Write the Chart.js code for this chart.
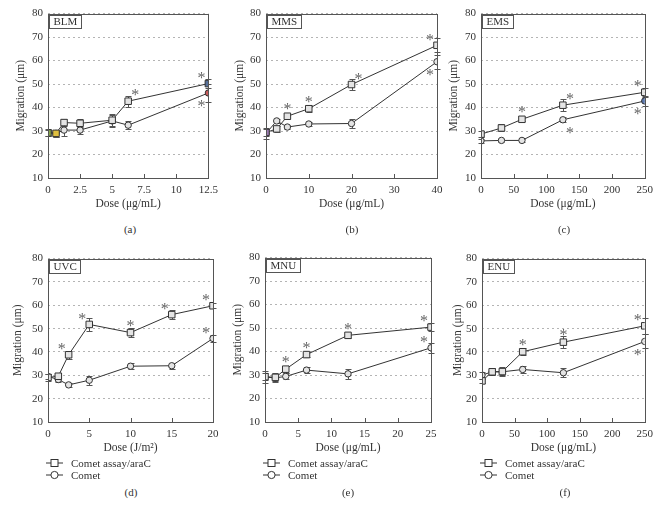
<!DOCTYPE html>
<html>
<head>
<meta charset="utf-8">
<script src="https://cdn.jsdelivr.net/npm/chart.js@4"></script>
<style>
  body { margin: 0; background: #fff; width: 666px; height: 516px; position: relative; overflow: hidden; font-family: "Liberation Serif", serif; color: #333; }
  canvas { position: absolute; }
  .cap { position: absolute; font-size: 11px; width: 60px; text-align: center; color: #333; }
  .leg { position: absolute; font-size: 11px; line-height: 12px; }
  .leg div { height: 12px; display: flex; align-items: center; }
  .leg svg { margin-right: 8px; }
</style>
</head>
<body>
<script>
// ---- data ----
const blmDose = [0, 0.625, 1.25, 2.5, 5, 6.25, 12.5];
const blmAraC = [29.2, 29.0, 33.6, 33.3, 34.6, 42.7, 50.2];
const blmAraCErr = [1.2, 1.5, 1.5, 2.0, 2.5, 2.3, 2.0];
const blmComet = [29.5, 29.0, 30.4, 30.4, 34.3, 32.5, 46.2];
const blmCometErr = [1.5, 1.5, 2.5, 1.5, 2.5, 1.8, 4.0];

const mmsDose = [0, 2.5, 5, 10, 20, 40];
const mmsAraC = [29.4, 30.9, 36.3, 39.5, 49.8, 66.5];
const mmsAraCErr = [1.5, 1.2, 1.0, 1.5, 2.5, 3.0];
const mmsComet = [29.0, 34.3, 31.7, 33.0, 33.2, 59.5];
const mmsCometErr = [2.5, 1.0, 1.0, 1.0, 1.8, 3.0];

const emsDose = [0, 31.25, 62.5, 125, 250];
const emsAraC = [28.7, 31.3, 35.0, 41.0, 46.5];
const emsAraCErr = [1.2, 1.5, 0.8, 2.5, 2.0];
const emsComet = [25.8, 26.0, 26.0, 34.8, 42.8];
const emsCometErr = [0.8, 0.8, 0.8, 1.0, 2.0];

const uvcDose = [0, 1.25, 2.5, 5, 10, 15, 20];
const uvcAraC = [29.1, 29.6, 38.8, 51.8, 48.3, 56.0, 59.8];
const uvcAraCErr = [1.5, 1.5, 1.8, 2.8, 1.8, 2.0, 1.0];
const uvcComet = [29.5, 28.2, 25.9, 27.9, 33.9, 34.1, 45.8];
const uvcCometErr = [1.0, 1.2, 1.0, 2.0, 1.2, 1.2, 1.5];

const mnuDose = [0, 1.5625, 3.125, 6.25, 12.5, 25];
const mnuAraC = [29.3, 29.0, 32.5, 38.7, 46.9, 50.4];
const mnuAraCErr = [1.5, 2.0, 1.5, 1.0, 1.2, 1.8];
const mnuComet = [29.1, 28.8, 29.4, 32.1, 30.5, 41.6];
const mnuCometErr = [2.5, 1.5, 1.3, 1.3, 2.0, 2.2];

const enuDose = [0, 15.625, 31.25, 62.5, 125, 250];
const enuAraC = [27.6, 31.5, 31.6, 40.1, 44.2, 51.2];
const enuAraCErr = [1.0, 1.5, 1.5, 1.5, 2.5, 3.5];
const enuComet = [30.1, 31.5, 31.5, 32.5, 31.1, 44.5];
const enuCometErr = [1.5, 1.5, 2.0, 1.5, 2.0, 3.0];

const yTicks = [10, 20, 30, 40, 50, 60, 70, 80];
const seriesNames = ["Comet assay/araC", "Comet"];

// significance marks: [series, point, side]
const blmStars = [[0, 5, "ar"], [0, 6, "al"], [1, 6, "bl"]];
const mmsStars = [[0, 2, "a"], [0, 3, "a"], [0, 4, "ar"], [0, 5, "al"], [1, 5, "bl"]];
const emsStars = [[0, 2, "a"], [0, 3, "ar"], [0, 4, "al"], [1, 3, "br"], [1, 4, "bl"]];
const uvcStars = [[0, 2, "al"], [0, 3, "al"], [0, 4, "a"], [0, 5, "al"], [0, 6, "al"], [1, 6, "al"]];
const mnuStars = [[0, 2, "a"], [0, 3, "a"], [0, 4, "a"], [0, 5, "al"], [1, 5, "al"]];
const enuStars = [[0, 3, "a"], [0, 4, "a"], [0, 5, "al"], [1, 5, "bl"]];

const FONT = "'Liberation Serif', serif";
const INK = "#333";

const panels = [
  { name: "BLM", cap: "(a)", dose: blmDose, sq: blmAraC, sqErr: blmAraCErr, ci: blmComet, ciErr: blmCometErr, stars: blmStars,
    xMax: 12.5, step: 2.5, unit: "Dose (μg/mL)", box: [48, 12, 212, 178], yPad: 14, legend: false,
    colors: { sq: { 0: "#86a64a", 1: "#e0c040", 6: "#56709a" }, ci: { 0: "#86a64a", 1: "#e0c040", 6: "#c85a5a" } } },
  { name: "MMS", cap: "(b)", dose: mmsDose, sq: mmsAraC, sqErr: mmsAraCErr, ci: mmsComet, ciErr: mmsCometErr, stars: mmsStars,
    xMax: 40, step: 10, unit: "Dose (μg/mL)", box: [266, 12, 437, 178], yPad: 15, legend: false,
    colors: { sq: { 0: "#9a7ab0" }, ci: { 0: "#9a7ab0" } } },
  { name: "EMS", cap: "(c)", dose: emsDose, sq: emsAraC, sqErr: emsAraCErr, ci: emsComet, ciErr: emsCometErr, stars: emsStars,
    xMax: 250, step: 50, unit: "Dose (μg/mL)", box: [481, 12, 647, 178], yPad: 14, legend: false,
    colors: { sq: {}, ci: { 4: "#5a78b0" } } },
  { name: "UVC", cap: "(d)", dose: uvcDose, sq: uvcAraC, sqErr: uvcAraCErr, ci: uvcComet, ciErr: uvcCometErr, stars: uvcStars,
    xMax: 20, step: 5, unit: "Dose (J/m²)", box: [48, 257, 213, 422], yPad: 11, legend: true,
    colors: { sq: {}, ci: {} } },
  { name: "MNU", cap: "(e)", dose: mnuDose, sq: mnuAraC, sqErr: mnuAraCErr, ci: mnuComet, ciErr: mnuCometErr, stars: mnuStars,
    xMax: 25, step: 5, unit: "Dose (μg/mL)", box: [265, 256, 431, 422], yPad: 14, legend: true,
    colors: { sq: {}, ci: {} } },
  { name: "ENU", cap: "(f)", dose: enuDose, sq: enuAraC, sqErr: enuAraCErr, ci: enuComet, ciErr: enuCometErr, stars: enuStars,
    xMax: 250, step: 50, unit: "Dose (μg/mL)", box: [482, 257, 647, 422], yPad: 17, legend: true,
    colors: { sq: {}, ci: {} } }
];

const starOffset = { a: [0, -10], ar: [7, -9], al: [-7, -9], bl: [-7, 10], br: [7, 10] };

const decor = {
  id: "decor",
  beforeDatasetsDraw(chart, args, opts) {
    const { ctx, scales: { x, y } } = chart;
    ctx.save();
    ctx.strokeStyle = "#555";
    ctx.lineWidth = 1;
    chart.data.datasets.forEach((ds, i) => {
      ds.data.forEach((pt, j) => {
        const e = opts.errs[i][j];
        const px = Math.round(x.getPixelForValue(pt.x)) + 0.5;
        const t = Math.round(y.getPixelForValue(pt.y + e)) + 0.5;
        const b = Math.round(y.getPixelForValue(pt.y - e)) + 0.5;
        ctx.beginPath();
        ctx.moveTo(px, t); ctx.lineTo(px, b);
        ctx.moveTo(px - 3, t); ctx.lineTo(px + 3, t);
        ctx.moveTo(px - 3, b); ctx.lineTo(px + 3, b);
        ctx.stroke();
      });
    });
    ctx.restore();
  },
  afterDraw(chart, args, opts) {
    const { ctx, chartArea: a, scales: { x, y } } = chart;
    ctx.save();
    // frame
    ctx.strokeStyle = "#555";
    ctx.lineWidth = 1;
    ctx.strokeRect(Math.round(a.left) + 0.5, Math.round(a.top) + 0.5, Math.round(a.right - a.left), Math.round(a.bottom - a.top));
    // inner x ticks
    ctx.beginPath();
    x.ticks.forEach(t => {
      const px = Math.round(x.getPixelForValue(t.value)) + 0.5;
      ctx.moveTo(px, a.bottom); ctx.lineTo(px, a.bottom - 4);
    });
    ctx.stroke();
    // name box
    ctx.font = "11px " + FONT;
    const w = ctx.measureText(opts.name).width + 8;
    ctx.fillStyle = "#fff";
    ctx.fillRect(a.left + 1.5, a.top + 1.5, w, 13);
    ctx.strokeRect(Math.round(a.left) + 1.5, Math.round(a.top) + 1.5, Math.round(w), 13);
    ctx.fillStyle = INK;
    ctx.textBaseline = "middle";
    ctx.fillText(opts.name, a.left + 5.5, a.top + 8.5);
    // stars
    ctx.font = "16px " + FONT;
    ctx.fillStyle = "#666";
    ctx.textAlign = "center";
    opts.stars.forEach(([s, j, side]) => {
      const pt = chart.data.datasets[s].data[j];
      const [dx, dy] = starOffset[side];
      ctx.fillText("*", x.getPixelForValue(pt.x) + dx, y.getPixelForValue(pt.y) + dy + 4);
    });
    ctx.restore();
  }
};

function pointColors(vals, map) {
  return vals.map((v, i) => map[i] || "#e4e4e4");
}

panels.forEach(p => {
  const [l, t, r, b] = p.box;
  const cv = document.createElement("canvas");
  cv.width = 48 + (r - l) + 12;
  cv.height = 10 + (b - t) + 37;
  cv.style.left = (l - 48) + "px";
  cv.style.top = (t - 10) + "px";
  document.body.appendChild(cv);

  const mk = (ys, style, map, rad) => ({
    data: ys.map((v, i) => ({ x: p.dose[i], y: v })),
    borderColor: INK,
    borderWidth: 1,
    pointStyle: style,
    pointRadius: rad,
    pointBorderColor: INK,
    pointBorderWidth: 1,
    pointBackgroundColor: pointColors(ys, map),
    tension: 0
  });

  new Chart(cv, {
    type: "line",
    data: { datasets: [mk(p.sq, "rect", p.colors.sq, 4.6), mk(p.ci, "circle", p.colors.ci, 3.2)] },
    options: {
      responsive: false,
      animation: false,
      events: [],
      layout: { padding: { top: 10, right: 12, left: 0, bottom: 0 } },
      plugins: {
        legend: { display: false },
        tooltip: { enabled: false },
        decor: { name: p.name, errs: [p.sqErr, p.ciErr], stars: p.stars }
      },
      scales: {
        x: {
          type: "linear", min: 0, max: p.xMax,
          afterFit: s => { s.height = 37; },
          ticks: { stepSize: p.step, autoSkip: false, maxRotation: 0, padding: 6, color: INK, font: { family: FONT, size: 11 } },
          grid: { display: false, drawTicks: false },
          border: { display: false },
          title: { display: true, text: p.unit, color: INK, padding: { top: 0, bottom: 4 }, font: { family: FONT, size: 11.5 } }
        },
        y: {
          min: 10, max: 80,
          afterFit: s => { s.width = 48; },
          afterBuildTicks: s => { s.ticks = yTicks.map(v => ({ value: v })); },
          ticks: { padding: 5, color: INK, font: { family: FONT, size: 11 } },
          grid: { color: "#b4b4b4", drawTicks: false },
          border: { display: false, dash: [2, 3] },
          title: { display: true, text: "Migration (μm)", color: INK, padding: { top: p.yPad, bottom: 0 }, font: { family: FONT, size: 11.5 } }
        }
      }
    },
    plugins: [decor]
  });

  const cap = document.createElement("div");
  cap.className = "cap";
  cap.textContent = p.cap;
  cap.style.left = Math.round((l + r) / 2 - 30) + "px";
  cap.style.top = (b + (p.legend ? 64 : 45)) + "px";
  document.body.appendChild(cap);

  if (p.legend) {
    const lg = document.createElement("div");
    lg.className = "leg";
    lg.style.left = (l - 2) + "px";
    lg.style.top = (b + 35) + "px";
    const sqSvg = '<svg width="17" height="10"><line x1="0" y1="5" x2="17" y2="5" stroke="#333"/><rect x="5" y="1.5" width="7" height="7" fill="#fff" stroke="#333"/></svg>';
    const ciSvg = '<svg width="17" height="10"><line x1="0" y1="5" x2="17" y2="5" stroke="#333"/><circle cx="8.5" cy="5" r="3.6" fill="#fff" stroke="#333"/></svg>';
    lg.innerHTML = '<div>' + sqSvg + seriesNames[0] + '</div><div>' + ciSvg + seriesNames[1] + '</div>';
    document.body.appendChild(lg);
  }
});
</script>
</body>
</html>
